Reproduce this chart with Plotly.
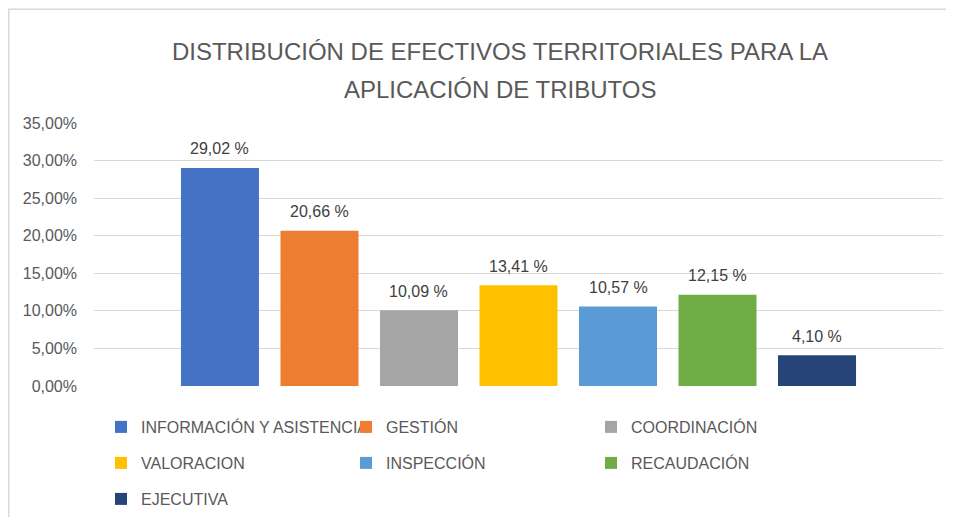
import plotly.graph_objects as go

categories = ["INFORMACIÓN Y ASISTENCIA", "GESTIÓN", "COORDINACIÓN", "VALORACION",
              "INSPECCIÓN", "RECAUDACIÓN", "EJECUTIVA"]
values = [0.2902, 0.2066, 0.1009, 0.1341, 0.1057, 0.1215, 0.0410]
labels = ["29,02 %", "20,66 %", "10,09 %", "13,41 %", "10,57 %", "12,15 %", "4,10 %"]
colors = ["#4472C4", "#ED7D31", "#A5A5A5", "#FFC000", "#5B9BD5", "#70AD47", "#264478"]
ytick_vals = [0, 0.05, 0.10, 0.15, 0.20, 0.25, 0.30, 0.35]
title_lines = ["DISTRIBUCIÓN DE EFECTIVOS TERRITORIALES PARA LA", "APLICACIÓN DE TRIBUTOS"]

# page body has an 8px margin; the figure is sized to fit the 954x525 window
OFF = 8
W, H = 954 - 2 * OFF, 525 - 2 * OFF
ML, MT = 94 - OFF, 123 - OFF
MR = W - (943 - OFF)
MB = H - (387 - OFF)
PW = W - ML - MR
PH = H - MT - MB


def px_x(px):
    return (px - OFF - ML) / PW


def px_y(py):
    return (H - MB - (py - OFF)) / PH


legend_rows = [0, 0, 0, 1, 1, 1, 2]
legend_names = ["legend", "legend2", "legend3"]

fig = go.Figure()
for i, (cat, val, col) in enumerate(zip(categories, values, colors)):
    fig.add_trace(go.Bar(
        x=[i], y=[val], name=cat, width=0.784,
        marker=dict(color=col, line=dict(width=0)),
        legend=legend_names[legend_rows[i]],
        hovertemplate="%{y:.2%}<extra>" + cat + "</extra>",
    ))
    fig.add_annotation(
        x=i, y=val, text=labels[i], showarrow=False,
        xref="x", yref="y", yanchor="middle", yshift=19,
        font=dict(family="Liberation Sans, Arial, sans-serif", size=16, color="#404040"),
    )

title_font = dict(family="Liberation Sans, Arial, sans-serif", size=24, color="#595959")
fig.add_annotation(
    x=px_x(500), y=px_y(89), xref="paper", yref="paper",
    xanchor="center", yanchor="middle", showarrow=False,
    text=title_lines[1], font=title_font,
)

legend_font = dict(family="Liberation Sans, Arial, sans-serif", size=16, color="#595959")
row_centers = [427, 463, 499]
legend_cfg = {}
for r, name in enumerate(legend_names):
    legend_cfg[name] = dict(
        orientation="h", x=px_x(101), xanchor="left",
        y=px_y(row_centers[r]), yanchor="middle",
        font=legend_font, bgcolor="rgba(0,0,0,0)",
        entrywidth=200, entrywidthmode="pixels",
        itemwidth=30, traceorder="normal",
        itemclick=False, itemdoubleclick=False,
    )

fig.update_layout(
    width=W, height=H,
    margin=dict(l=ML, r=MR, t=MT, b=MB),
    paper_bgcolor="white", plot_bgcolor="white",
    separators=", ",
    showlegend=True,
    title=dict(
        text=title_lines[0],
        x=(500 - OFF) / W, xanchor="center", xref="container",
        y=1 - (52 - OFF) / H, yanchor="middle", yref="container",
        font=title_font,
    ),
    xaxis=dict(
        range=[-1.266, 7.266], showticklabels=False, showgrid=False,
        zeroline=False, showline=False, fixedrange=True,
    ),
    yaxis=dict(
        range=[0, 0.35], tickvals=ytick_vals, tickformat=".2%",
        showgrid=True, gridcolor="#D9D9D9", gridwidth=1,
        zeroline=False, showline=False, ticks="",
        ticklabelstandoff=16,
        tickfont=dict(family="Liberation Sans, Arial, sans-serif", size=16, color="#595959"),
        fixedrange=True,
    ),
    shapes=[dict(
        type="rect", xref="paper", yref="paper",
        x0=px_x(8.75), x1=px_x(990), y0=px_y(8.75), y1=px_y(560),
        line=dict(color="#D9D9D9", width=1.5), fillcolor="rgba(0,0,0,0)", layer="below",
    )],
    **legend_cfg,
)

fig.write_html("out.html")
